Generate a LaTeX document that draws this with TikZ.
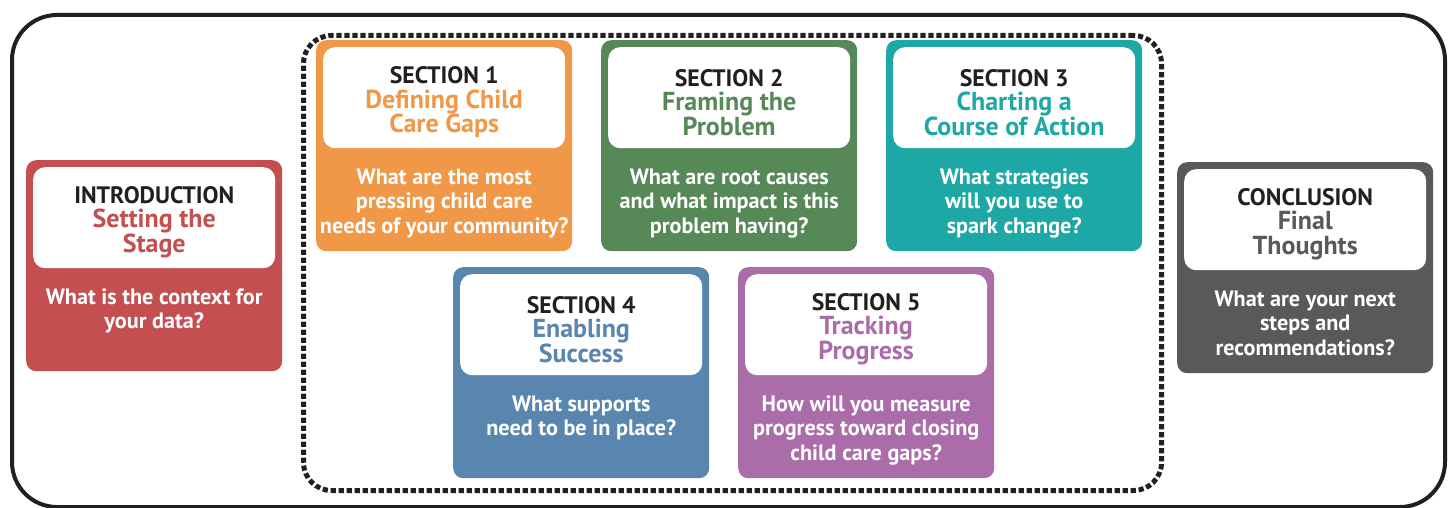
\documentclass[tikz,border=0pt]{standalone}
\usepackage{fontspec}
\setmainfont{PT Sans}
\definecolor{cRed}{HTML}{C44F50}
\definecolor{cOrange}{HTML}{F09848}
\definecolor{cGreen}{HTML}{568858}
\definecolor{cTeal}{HTML}{1DA8A5}
\definecolor{cBlue}{HTML}{5986AF}
\definecolor{cPurple}{HTML}{AB6CAA}
\definecolor{cGray}{HTML}{58595B}
\definecolor{cInk}{HTML}{231F20}
\newcommand\lbl[1]{\textcolor{cInk}{\fontsize{23.8}{24.5}\selectfont #1}}
\tikzset{
  cardbox/.style={anchor=north west, minimum width=256pt, minimum height=211pt, rounded corners=10pt, inner sep=0pt, draw=none},
  whitebox/.style={anchor=north west, fill=white, minimum width=242pt, minimum height=101pt, rounded corners=12pt, inner sep=0pt, draw=none},
  headtxt/.style={align=center, inner sep=0pt, font=\bfseries\fontsize{26}{24.5}\selectfont},
  qtxt/.style={anchor=north, align=center, inner sep=0pt, text=white, font=\bfseries\fontsize{22.2}{24.5}\selectfont},
  frame/.style={draw=cInk, line width=4pt, rounded corners=45pt, inner sep=0pt, fill=none},
  dotframe/.style={draw=cInk, line width=5pt, dash pattern=on 5.2pt off 2.8pt, rounded corners=28pt, inner sep=0pt, fill=none}
}
\newcommand\mycard[6]{%
  \node[cardbox, fill=#4] (#1) at (#2,#3) {};
  \node[whitebox] (#1w) at ([xshift=7pt,yshift=-7pt]#1.north west) {};
  \node[headtxt, text=#4] (#1h) at ([yshift=-4.5pt]#1w.center) {#5};
  \node[qtxt] (#1q) at ([yshift=-20pt]#1w.south) {#6};
}
\begin{document}
\begin{tikzpicture}[x=1pt,y=-1pt]
\useasboundingbox (0,0) rectangle (1452,508);
\node[frame, minimum width=1433pt, minimum height=492pt, anchor=north west] (outer) at (10,13) {};
\node[dotframe, minimum width=858pt, minimum height=455pt, anchor=north west] (group) at (301,33) {};
\mycard{intro}{26}{160}{cRed}{\lbl{INTRODUCTION}\\Setting the\\Stage}{What is the context for\\your data?}
\mycard{s1}{316}{40}{cOrange}{\lbl{SECTION 1}\\Defining Child\\Care Gaps}{What are the most\\pressing child care\\needs of your community?}
\mycard{s2}{601}{40}{cGreen}{\lbl{SECTION 2}\\Framing the\\Problem}{What are root causes\\and what impact is this\\problem having?}
\mycard{s3}{886}{40}{cTeal}{\lbl{SECTION 3}\\Charting a\\Course of Action}{What strategies\\will you use to\\spark change?}
\mycard{s4}{453}{267}{cBlue}{\lbl{SECTION 4}\\Enabling\\Success}{What supports\\need to be in place?}
\mycard{s5}{738}{267}{cPurple}{\lbl{SECTION 5}\\Tracking\\Progress}{How will you measure\\progress toward closing\\child care gaps?}
\mycard{concl}{1177}{162}{cGray}{\lbl{CONCLUSION}\\Final\\Thoughts}{What are your next\\steps and\\recommendations?}
\end{tikzpicture}
\end{document}
